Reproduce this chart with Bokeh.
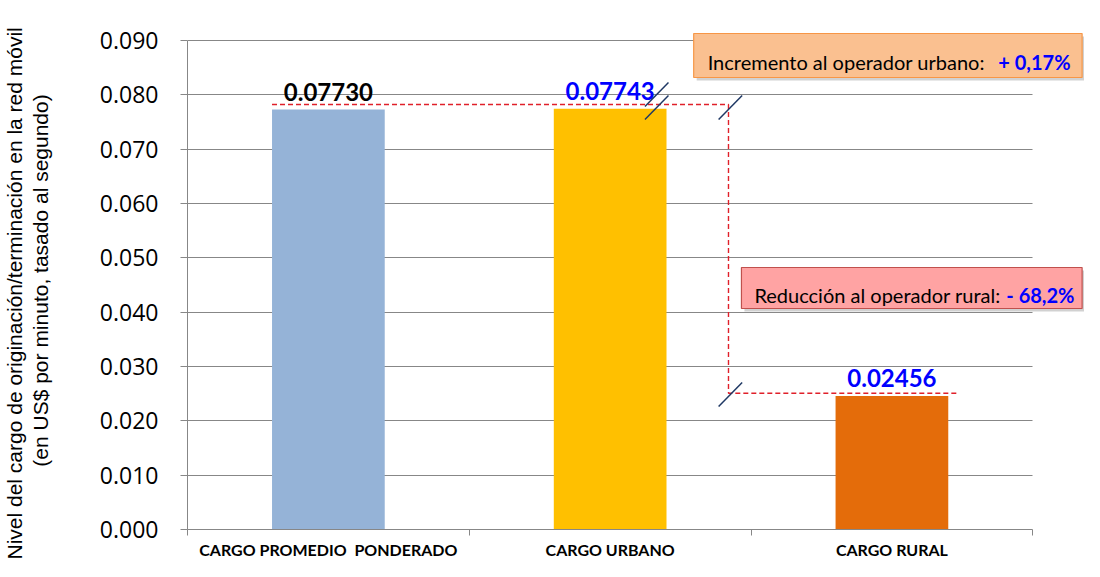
import math
from bokeh.plotting import figure
from bokeh.models import (ColumnDataSource, Range1d, FixedTicker, NumeralTickFormatter,
                          BoxAnnotation, Label, Title)
from bokeh.core.properties import value
from bokeh.embed import file_html
from bokeh.resources import INLINE

# ---- data ----
categories = ["CARGO PROMEDIO\u00a0 PONDERADO", "CARGO URBANO", "CARGO RURAL"]
charges = [0.07730, 0.07743, 0.02456]
charge_labels = ["0.07730", "0.07743", "0.02456"]
bar_colors = ["#95B3D7", "#FFC000", "#E46C0A"]
label_colors = ["#000000", "#0000FF", "#0000FF"]
y_ticks = [0.0, 0.01, 0.02, 0.03, 0.04, 0.05, 0.06, 0.07, 0.08, 0.09]
note_urban = ("Incremento al operador urbano: ", "+ 0,17%")
note_rural = ("Reducción al operador rural: ", "- 68,2%")
y_title = ["Nivel del cargo de originación/terminación en la red móvil",
           "(en US$ por minuto, tasado al segundo)"]

xpos = [i + 0.5 for i in range(len(categories))]
BAR_W = 0.4
GRAY = "#878787"

p = figure(width=1084, height=561, output_backend="svg", toolbar_location=None,
           x_range=Range1d(0, 3.1835), y_range=Range1d(0, 0.09166),
           min_border_left=182, min_border_right=0, min_border_top=31,
           min_border_bottom=32)
p.outline_line_color = None
p.background_fill_color = "white"
p.border_fill_color = "white"

src = ColumnDataSource(dict(x=xpos, top=charges, color=bar_colors,
                            lab=charge_labels, lc=label_colors,
                            ly=[c + 0.0033 for c in charges]))
p.vbar(x="x", top="top", width=BAR_W, fill_color="color", line_color=None, source=src)

p.text(x="x", y="ly", text="lab", text_color="lc", source=src,
       text_font=value("Lato"), text_font_style="bold", text_font_size="24px",
       text_align="center", text_baseline="alphabetic")

# ---- axes ----
xa = p.xaxis[0]
xa.bounds = (0, 3)
xa.ticker = FixedTicker(ticks=xpos, minor_ticks=[0, 1, 2, 3])
xa.major_label_overrides = {x: c for x, c in zip(xpos, categories)}
xa.major_tick_line_color = None
xa.major_tick_out = 0
xa.minor_tick_out = 6
xa.minor_tick_in = 0
xa.minor_tick_line_color = GRAY
xa.axis_line_color = GRAY
xa.major_label_text_font = "Lato"
xa.major_label_text_font_style = "bold"
xa.major_label_text_font_size = "16px"
xa.major_label_text_color = "#000000"
xa.major_label_standoff = 4

ya = p.yaxis[0]
ya.bounds = (0, 0.09)
ya.ticker = FixedTicker(ticks=y_ticks)
ya.formatter = NumeralTickFormatter(format="0.000")
ya.major_tick_out = 7
ya.major_tick_in = 0
ya.minor_tick_line_color = None
ya.major_tick_line_color = GRAY
ya.axis_line_color = GRAY
ya.major_label_text_font = "Open Sans"
ya.major_label_text_font_size = "23px"
ya.major_label_text_color = "#000000"
ya.major_label_standoff = 22
ya.axis_label = y_title[1]
ya.axis_label_text_font = "Liberation Sans"
ya.axis_label_text_font_style = "normal"
ya.axis_label_text_font_size = "21px"
ya.axis_label_text_color = "#000000"
ya.axis_label_standoff = 45

p.add_layout(Title(text=y_title[0], align="left", offset=-30, standoff=0,
                   vertical_align="bottom", text_font="Liberation Sans",
                   text_font_style="normal", text_font_size="21px",
                   text_color="#000000"), "left")

p.xgrid.grid_line_color = None
yg = p.ygrid[0]
yg.grid_line_color = GRAY
yg.grid_line_width = 1
if "cross_bounds" in yg.properties():
    yg.cross_bounds = (0, 3)
else:
    p.add_layout(BoxAnnotation(left=3.0, fill_color="white", fill_alpha=1.0,
                               line_color=None, level="underlay"))

# ---- dashed connector ----
y_hi = charges[1] + 0.0008
y_lo = charges[2] + 0.00053
x_left = xpos[0] - BAR_W / 2
x_vert = 1.920
x_right = xpos[2] + BAR_W / 2 + 0.032
p.line(x=[x_left, x_vert, x_vert, x_right], y=[y_hi, y_hi, y_lo, y_lo],
       line_color="#E0202A", line_width=1.4, line_dash="5 3")

# ---- break marks ----
sx = 0.0835
sy = 0.0044
s_x0 = [1.6235, 1.6235, 1.885, 1.885]
s_y0 = [y_hi - 0.00037, y_hi - 0.00276, y_hi - 0.00276, y_lo - 0.00245]
p.segment(x0=s_x0, y0=s_y0, x1=[v + sx for v in s_x0], y1=[v + sy for v in s_y0],
          line_color="#1F3864", line_width=1.5)

# ---- note boxes ----
def note_box(left, right, top, bottom, fill, line):
    dx, dy = 0.0106, 0.00055
    p.add_layout(BoxAnnotation(left=left + dx, right=right + dx, top=top - dy, bottom=bottom - dy,
                               fill_color="#9A9A9A", fill_alpha=0.45, line_color=None))
    p.add_layout(BoxAnnotation(left=left, right=right, top=top, bottom=bottom,
                               fill_color=fill, fill_alpha=1.0, line_color=line,
                               line_width=1.2, line_alpha=1.0))

note_box(1.7965, 3.175, 0.09129, 0.08319, "#FAC090", "#F79646")
note_box(1.966, 3.175, 0.04822, 0.04068, "#FFA3A3", "#C0504D")

for (txt, bold_txt), xl, xr, yb in [(note_urban, 1.846, 3.134, 0.08603),
                                    (note_rural, 2.012, 3.148, 0.04307)]:
    p.add_layout(Label(x=xl, y=yb, text=txt, text_align="left", text_baseline="alphabetic",
                       text_font="Lato", text_font_size="20px", text_color="#000000"))
    p.add_layout(Label(x=xr, y=yb, text=bold_txt, text_align="right", text_baseline="alphabetic",
                       text_font="Lato", text_font_style="bold", text_font_size="20px",
                       text_color="#0000FF"))

open("out.html", "w").write(file_html(p, INLINE))
